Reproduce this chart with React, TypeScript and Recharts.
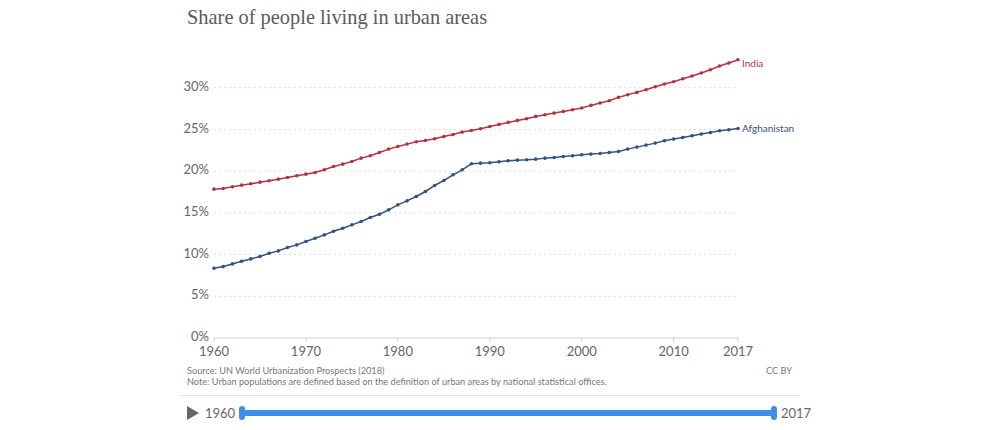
import React from 'react';
import { LineChart, Line, XAxis, YAxis, CartesianGrid } from 'recharts';

const years = [
  1960, 1961, 1962, 1963, 1964, 1965, 1966, 1967, 1968, 1969,
  1970, 1971, 1972, 1973, 1974, 1975, 1976, 1977, 1978, 1979,
  1980, 1981, 1982, 1983, 1984, 1985, 1986, 1987, 1988, 1989,
  1990, 1991, 1992, 1993, 1994, 1995, 1996, 1997, 1998, 1999,
  2000, 2001, 2002, 2003, 2004, 2005, 2006, 2007, 2008, 2009,
  2010, 2011, 2012, 2013, 2014, 2015, 2016, 2017,
];

const india = [
  17.84, 17.92, 18.12, 18.32, 18.48, 18.68, 18.84, 19.04, 19.24, 19.44,
  19.64, 19.84, 20.16, 20.56, 20.84, 21.16, 21.56, 21.84, 22.24, 22.64,
  22.96, 23.24, 23.52, 23.68, 23.88, 24.16, 24.4, 24.68, 24.88, 25.08,
  25.36, 25.6, 25.84, 26.08, 26.28, 26.56, 26.76, 26.96, 27.16, 27.36,
  27.56, 27.88, 28.16, 28.44, 28.84, 29.16, 29.44, 29.76, 30.12, 30.44,
  30.72, 31.08, 31.4, 31.76, 32.16, 32.6, 32.96, 33.36,
];

const afghanistan = [
  8.36, 8.56, 8.88, 9.2, 9.48, 9.76, 10.16, 10.44, 10.84, 11.16,
  11.56, 11.96, 12.36, 12.8, 13.16, 13.56, 13.96, 14.44, 14.84, 15.36,
  15.96, 16.44, 16.96, 17.56, 18.28, 18.88, 19.56, 20.16, 20.88, 20.96,
  21.0, 21.12, 21.24, 21.32, 21.36, 21.44, 21.56, 21.64, 21.76, 21.84,
  21.96, 22.04, 22.12, 22.24, 22.36, 22.64, 22.88, 23.12, 23.36, 23.64,
  23.84, 24.04, 24.24, 24.44, 24.64, 24.84, 24.96, 25.12,
];

const xTicks = [1960, 1970, 1980, 1990, 2000, 2010, 2017];
const yTicks = [0, 5, 10, 15, 20, 25, 30];
const gridValues = [5, 10, 15, 20, 25, 30];

const TITLE = 'Share of people living in urban areas';
const SOURCE = 'Source: UN World Urbanization Prospects (2018)';
const NOTE = 'Note: Urban populations are defined based on the definition of urban areas by national statistical offices.';
const LICENSE = 'CC BY';
const START_YEAR = '1960';
const END_YEAR = '2017';

const INDIA_COLOR = '#b2343f';
const AFG_COLOR = '#34517f';

const data = years.map((y, i) => ({ year: y, India: india[i], Afghanistan: afghanistan[i] }));

const makeEndLabel = (name: string, color: string, dy: number) => (props: any) => {
  const { x, y, index } = props;
  if (index !== years.length - 1) return null;
  return (
    <text x={x + 4} y={y + dy} dy="0.35em" fontSize={10} fill={color} fontFamily="Lato, sans-serif">
      {name}
    </text>
  );
};

const font = 'Lato, sans-serif';

const YTick = (props: any) => {
  const { x, y, payload } = props;
  return (
    <text x={x} y={y - 1.5} dy="0.355em" textAnchor="end" fontSize={13} fill="#666" fontFamily={font}>
      {`${payload.value}%`}
    </text>
  );
};

export default function App() {
  return (
    <div style={{ position: 'absolute', left: 0, top: 0, width: 1000, height: 430, background: '#fff', overflow: 'hidden' }}>
      <div
        style={{
          position: 'absolute', left: 187, top: 3, fontFamily: '"Liberation Serif", serif',
          fontSize: 20.4, color: '#5b5b5b', whiteSpace: 'nowrap', lineHeight: '28px',
        }}
      >
        {TITLE}
      </div>
      <div style={{ position: 'absolute', left: 0, top: 0 }}>
        <LineChart width={1000} height={430} data={data} margin={{ top: 46, right: 262, bottom: 62, left: 174 }}>
          <CartesianGrid vertical={false} stroke="#dcdcdc" strokeDasharray="2 3" horizontalValues={gridValues} />
          <XAxis
            dataKey="year"
            type="number"
            domain={[1960, 2017]}
            ticks={xTicks}
            height={30}
            stroke="#cfcfcf"
            tickSize={4}
            tickMargin={5}
            tick={{ fill: '#666', fontSize: 13, fontFamily: font }}
            interval={0}
          />
          <YAxis
            type="number"
            domain={[0, 35]}
            ticks={yTicks}
            width={40}
            axisLine={false}
            tickLine={false}
            tickSize={0}
            tickMargin={5}
            tick={<YTick />}
            interval={0}
          />
          <Line
            dataKey="India"
            stroke={INDIA_COLOR}
            strokeWidth={1.5}
            dot={{ r: 1.8, fill: INDIA_COLOR, stroke: INDIA_COLOR, strokeWidth: 0 }}
            isAnimationActive={false}
            label={makeEndLabel('India', INDIA_COLOR, 4)}
          />
          <Line
            dataKey="Afghanistan"
            stroke={AFG_COLOR}
            strokeWidth={1.5}
            dot={{ r: 1.8, fill: AFG_COLOR, stroke: AFG_COLOR, strokeWidth: 0 }}
            isAnimationActive={false}
            label={makeEndLabel('Afghanistan', AFG_COLOR, 0)}
          />
        </LineChart>
      </div>
      <div style={{ position: 'absolute', left: 187, top: 365, fontFamily: font, fontSize: 9.2, color: '#777', whiteSpace: 'nowrap', lineHeight: '11px' }}>
        <div>{SOURCE}</div>
        <div>{NOTE}</div>
      </div>
      <div style={{ position: 'absolute', left: 766, top: 365, fontFamily: font, fontSize: 9.2, color: '#777', lineHeight: '11px' }}>
        {LICENSE}
      </div>
      <div style={{ position: 'absolute', left: 180, top: 395, width: 620, height: 1, background: '#e3e3e3' }} />
      <svg style={{ position: 'absolute', left: 0, top: 0 }} width={1000} height={430}>
        <polygon points="187,406 199,413 187,420" fill="#666" />
        <rect x={242} y={410} width={533} height={6} fill="#3f8ee6" />
        <rect x={239} y={406} width={6} height={14} rx={3} fill="#3f8ee6" />
        <rect x={771} y={406} width={6} height={14} rx={3} fill="#3f8ee6" />
      </svg>
      <div style={{ position: 'absolute', left: 205, top: 405, fontFamily: font, fontSize: 13, color: '#666', lineHeight: '16px' }}>
        {START_YEAR}
      </div>
      <div style={{ position: 'absolute', left: 781, top: 405, fontFamily: font, fontSize: 13, color: '#666', lineHeight: '16px' }}>
        {END_YEAR}
      </div>
    </div>
  );
}
